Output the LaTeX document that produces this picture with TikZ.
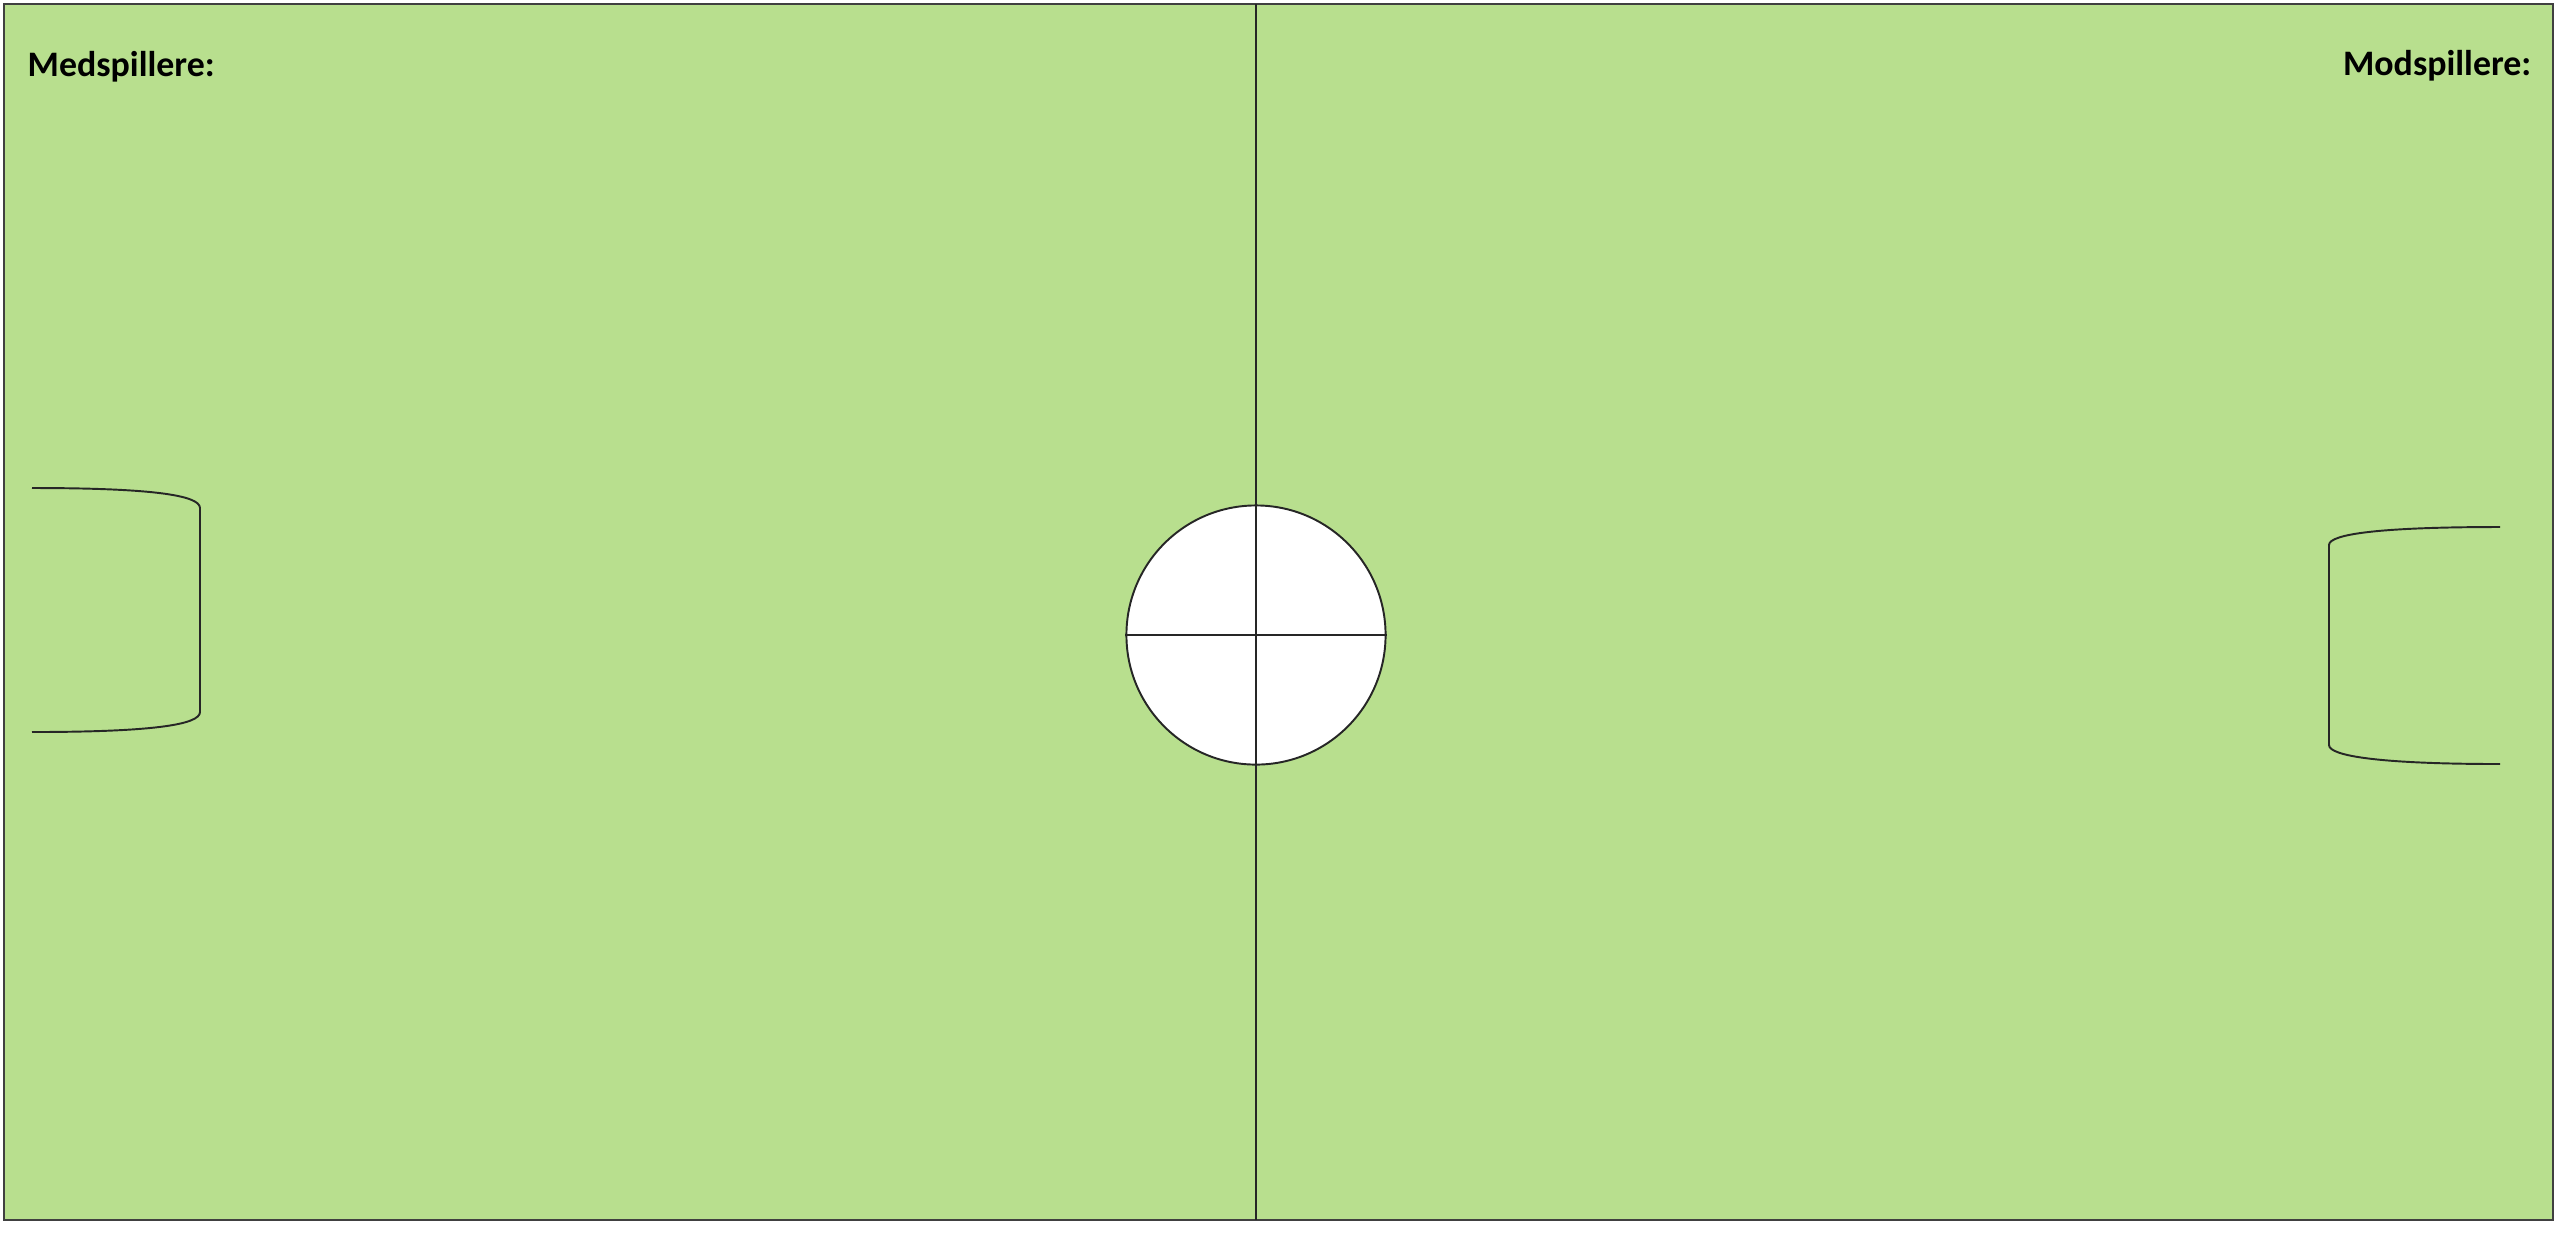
\documentclass[tikz,border=0pt]{standalone}
\usepackage{fontspec}
\setmainfont{Carlito}
\begin{document}
\begin{tikzpicture}[x=0.01cm,y=-0.01cm,
  fieldline/.style={draw=black!85, line width=0.55pt},
  label/.style={font=\bfseries\fontsize{10.2pt}{12pt}\selectfont, inner sep=0pt, text=black}]
\definecolor{pitch}{RGB}{184,223,142}
\useasboundingbox (0,0) rectangle (2560,1232);
\fill[white] (0,0) rectangle (2560,1232);
\draw[fill=pitch, draw=black!75, line width=0.6pt] (4,4) rectangle (2553,1220);
\coordinate (mtop) at (1256,4);
\coordinate (mbot) at (1256,1220);
\node[circle, draw=black!85, line width=0.55pt, fill=white, minimum size=2.59cm, inner sep=0pt] (kick) at (1256,635) {};
\draw[fieldline] (kick.west) -- (kick.east);
\draw[fieldline] (mtop) -- (mbot);
% left goal
\draw[fieldline] (32,488) .. controls (150,488) and (200,495) .. (200,508) -- (200,712) .. controls (200,725) and (150,732) .. (32,732);
% right goal
\draw[fieldline] (2500,527) .. controls (2380,527) and (2329,534) .. (2329,545) -- (2329,745) .. controls (2329,756) and (2380,764) .. (2500,764);
\node[label, anchor=base west] (med) at (27,76) {Medspillere:};
\node[label, anchor=base east] (mod) at (2532,75) {Modspillere:};
\end{tikzpicture}
\end{document}
